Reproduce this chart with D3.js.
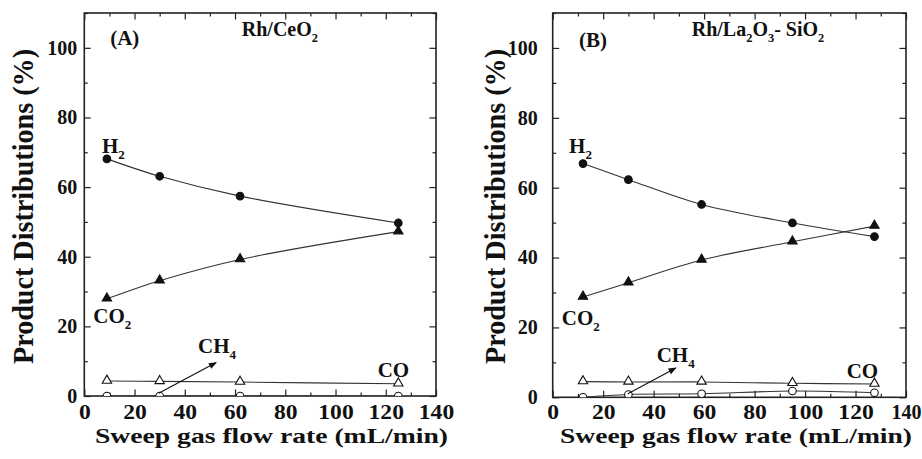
<!DOCTYPE html>
<html>
<head>
<meta charset="utf-8">
<script src="https://cdn.jsdelivr.net/npm/d3@7"></script>
<style>
  body { margin: 0; background: #fff; }
  svg text { font-family: "Liberation Serif", "Times New Roman", serif; font-weight: bold; }
</style>
</head>
<body>
<div id="chart"></div>
<script>
// ---- data ----
const flowA = [9, 30, 62, 125];
const h2A   = [68.1, 63.1, 57.4, 49.7];
const co2A  = [27.9, 33.1, 39.2, 47.2];
const coA   = [4.3, 4.2, 4.0, 3.5];
const ch4A  = [0, 0, 0, 0];

const flowB = [12, 30, 59, 95, 127.5];
const h2B   = [66.9, 62.3, 55.2, 49.9, 46.0];
const co2B  = [28.7, 32.8, 39.3, 44.5, 49.0];
const coB   = [4.5, 4.4, 4.4, 4.0, 3.8];
const ch4B  = [0, 0.8, 1.0, 1.8, 1.3];

const xTicks = [0, 20, 40, 60, 80, 100, 120, 140];
const yTicks = [0, 20, 40, 60, 80, 100];

const FONT = "'Liberation Serif', 'Times New Roman', serif";
const width = 922;
const height = 459;

const svg = d3.select("#chart")
  .append("svg")
  .attr("width", width)
  .attr("height", height);

// arrow head
svg.append("defs").append("marker")
  .attr("id", "arrow")
  .attr("viewBox", "0 0 10 10")
  .attr("refX", 9).attr("refY", 5)
  .attr("markerUnits", "userSpaceOnUse")
  .attr("markerWidth", 10).attr("markerHeight", 8)
  .attr("orient", "auto")
  .append("path")
  .attr("d", "M0,1 L10,5 L0,9 z")
  .attr("fill", "#111");

// text with subscripts: parts = [[text, isSub], ...]
const richText = (g, x, y, parts, size) => {
  const t = g.append("text")
    .attr("x", x).attr("y", y)
    .attr("font-family", FONT)
    .attr("font-weight", "bold")
    .attr("font-size", size)
    .attr("fill", "#111");
  let shifted = false;
  parts.forEach(([s, sub]) => {
    const ts = t.append("tspan").text(s);
    if (sub && !shifted) { ts.attr("dy", 6).attr("font-size", size * 0.62); shifted = true; }
    else if (sub) { ts.attr("font-size", size * 0.62); }
    else if (shifted) { ts.attr("dy", -6); shifted = false; }
  });
  return t;
};

const panels = [
  {
    id: "A", left: 84.3, top: 13, right: 436, bottom: 396, yLabelPad: 7, xLabelPad: 9,
    flow: flowA, h2: h2A, co2: co2A, co: coA, ch4: ch4A,
    xTitle: { cx: 271.5, len: 353 }, yTitleX: 33,
    tag: { x: 10.3, y: 100.9, parts: [["(A)"]] },
    cat: { x: 62.7, y: 103.4, parts: [["Rh/CeO"], ["2", true]] },
    lblH2: { x: 7.0, y: 69.8 }, lblCO2: { x: 3.6, y: 21.0 },
    lblCH4: { x: 45.3, y: 12.4 }, lblCO: { x: 116.8, y: 5.5 },
    arrow: [[29.6, 0.8], [52.5, 9.6]]
  },
  {
    id: "B", left: 552.7, top: 13, right: 906, bottom: 397.3, yLabelPad: 15, xLabelPad: 7.8,
    flow: flowB, h2: h2B, co2: co2B, co: coB, ch4: ch4B,
    xTitle: { cx: 736, len: 352 }, yTitleX: 505,
    tag: { x: 10.4, y: 100.3, parts: [["(B)"]] },
    cat: { x: 55.1, y: 103.4, parts: [["Rh/La"], ["2", true], ["O"], ["3", true], ["- SiO"], ["2", true]] },
    lblH2: { x: 6.5, y: 70.0 }, lblCO2: { x: 3.6, y: 20.7 },
    lblCH4: { x: 41.2, y: 10.2 }, lblCO: { x: 116.5, y: 5.4 },
    arrow: [[29.8, 1.0], [48.8, 8.4]]
  }
];

panels.forEach(p => {
  const innerWidth = p.right - p.left;
  const innerHeight = p.bottom - p.top;

  const xScale = d3.scaleLinear().domain([0, 140]).range([0, innerWidth]);
  const yScale = d3.scaleLinear().domain([0, 110]).range([innerHeight, 0]);

  const g = svg.append("g").attr("transform", `translate(${p.left}, ${p.top})`);

  // minor ticks on all four sides
  const minorX = d3.range(10, 140, 20);
  const minorY = d3.range(10, 111, 20);
  g.append("g").attr("transform", `translate(0, ${innerHeight})`)
    .call(d3.axisBottom(xScale).tickValues(minorX).tickSize(-3.5).tickFormat(""));
  g.append("g")
    .call(d3.axisTop(xScale).tickValues(minorX).tickSize(-3.5).tickFormat(""));
  g.append("g")
    .call(d3.axisLeft(yScale).tickValues(minorY).tickSize(-3.5).tickFormat(""));
  g.append("g").attr("transform", `translate(${innerWidth}, 0)`)
    .call(d3.axisRight(yScale).tickValues(minorY).tickSize(-3.5).tickFormat(""));

  // major ticks
  const bottomAxis = g.append("g").attr("transform", `translate(0, ${innerHeight})`)
    .call(d3.axisBottom(xScale).tickValues(xTicks).tickSize(-6.5).tickPadding(p.xLabelPad));
  // labels are drawn a little wide, except where that would run off the page
  bottomAxis.selectAll("text")
    .attr("transform", d => p.left + xScale(d) + 18 > width ? null : "scale(1.18,1)");
  g.append("g")
    .call(d3.axisTop(xScale).tickValues(xTicks).tickSize(-6.5).tickFormat(""));
  g.append("g")
    .call(d3.axisLeft(yScale).tickValues(yTicks).tickSize(-6.5).tickPadding(p.yLabelPad));
  g.append("g").attr("transform", `translate(${innerWidth}, 0)`)
    .call(d3.axisRight(yScale).tickValues(yTicks).tickSize(-6.5).tickFormat(""));

  g.selectAll(".domain").remove();
  g.selectAll("g").attr("font-family", FONT).attr("font-size", 20);
  g.selectAll(".tick line").attr("stroke", "#222").attr("stroke-width", 1.2);
  g.selectAll(".tick text")
    .attr("fill", "#111")
    .attr("font-family", FONT)
    .attr("font-weight", "bold")
    .attr("font-size", 20);

  g.append("rect")
    .attr("width", innerWidth).attr("height", innerHeight)
    .attr("fill", "none").attr("stroke", "#222").attr("stroke-width", 1.6);

  // clip for data
  g.append("clipPath").attr("id", `clip${p.id}`)
    .append("rect").attr("width", innerWidth).attr("height", innerHeight);
  const plot = g.append("g").attr("clip-path", `url(#clip${p.id})`);

  const series = [
    { values: p.h2, marker: "circle", fill: "#111" },
    { values: p.co2, marker: "triangle", fill: "#111" },
    { values: p.co, marker: "triangle", fill: "#fff" },
    { values: p.ch4, marker: "circle", fill: "#fff" }
  ];

  const line = d3.line()
    .x(d => xScale(d[0]))
    .y(d => yScale(d[1]))
    .curve(d3.curveCatmullRom.alpha(0.5));

  const tri = d3.symbol().type(d3.symbolTriangle).size(38);

  series.forEach(s => {
    const pts = p.flow.map((f, i) => [f, s.values[i]]);
    plot.append("path")
      .attr("d", line(pts))
      .attr("fill", "none")
      .attr("stroke", "#333")
      .attr("stroke-width", 1.1);

    const m = plot.append("g").selectAll("g")
      .data(pts)
      .join("g")
      .attr("transform", d => `translate(${xScale(d[0])}, ${yScale(d[1])})`);
    if (s.marker === "circle") {
      m.append("circle").attr("r", 3.8)
        .attr("fill", s.fill).attr("stroke", "#111").attr("stroke-width", 1.1);
    } else {
      m.append("path").attr("d", tri).attr("transform", "translate(0, -0.5)")
        .attr("fill", s.fill).attr("stroke", "#111").attr("stroke-width", 1.1);
    }
  });

  // CH4 arrow
  g.append("line")
    .attr("x1", xScale(p.arrow[0][0])).attr("y1", yScale(p.arrow[0][1]))
    .attr("x2", xScale(p.arrow[1][0])).attr("y2", yScale(p.arrow[1][1]))
    .attr("stroke", "#111").attr("stroke-width", 1.1)
    .attr("marker-end", "url(#arrow)");

  // annotations
  richText(g, xScale(p.tag.x), yScale(p.tag.y), p.tag.parts, 21);
  richText(g, xScale(p.cat.x), yScale(p.cat.y), p.cat.parts, 20);
  richText(g, xScale(p.lblH2.x), yScale(p.lblH2.y), [["H"], ["2", true]], 21);
  richText(g, xScale(p.lblCO2.x), yScale(p.lblCO2.y), [["CO"], ["2", true]], 21);
  richText(g, xScale(p.lblCH4.x), yScale(p.lblCH4.y), [["CH"], ["4", true]], 21);
  richText(g, xScale(p.lblCO.x), yScale(p.lblCO.y), [["CO"]], 21);

  // axis titles
  svg.append("text")
    .text("Sweep gas flow rate (mL/min)")
    .attr("x", p.xTitle.cx).attr("y", 442.5)
    .attr("text-anchor", "middle")
    .attr("font-family", FONT)
    .attr("font-weight", "bold")
    .attr("font-size", 22)
    .attr("textLength", p.xTitle.len)
    .attr("lengthAdjust", "spacingAndGlyphs")
    .attr("fill", "#111");

  svg.append("text")
    .text("Product Distributions (%)")
    .attr("transform", `translate(${p.yTitleX}, 206.5) rotate(-90)`)
    .attr("text-anchor", "middle")
    .attr("font-family", FONT)
    .attr("font-weight", "bold")
    .attr("font-size", 29)
    .attr("textLength", 315)
    .attr("lengthAdjust", "spacingAndGlyphs")
    .attr("fill", "#111");
});
</script>
</body>
</html>
